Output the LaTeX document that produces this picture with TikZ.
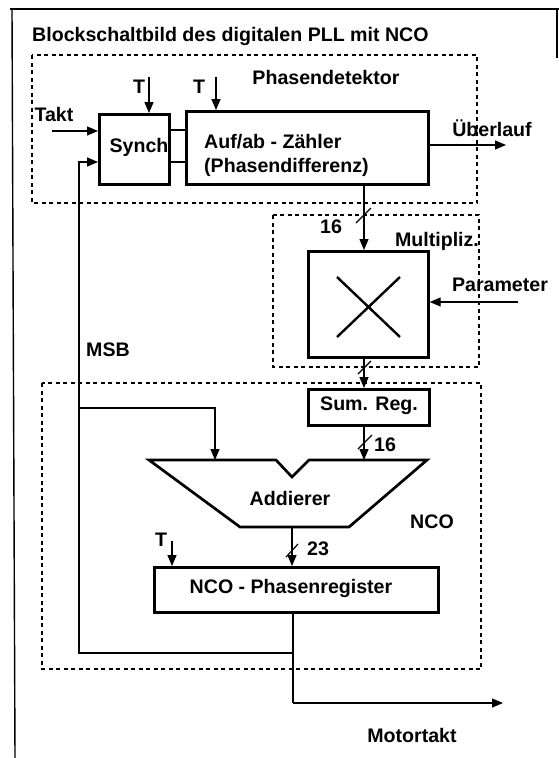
\documentclass[tikz,border=0pt]{standalone}
\usepackage{fontspec}
\setmainfont{Liberation Sans}
\usetikzlibrary{arrows.meta,calc}
\tikzset{
  lbl/.style={font=\fontsize{19.6}{22}\selectfont\bfseries, inner sep=0pt},
  blk/.style={draw, line width=2.7pt, inner sep=0pt, anchor=north west},
  dbox/.style={draw, line width=1.4pt, dash pattern=on 4pt off 3.5pt},
  conn/.style={line width=1.3pt},
  arr/.style={conn, -{Triangle[length=11pt,width=9pt]}},
  tick/.style={line width=1.2pt},
  frm/.style={line width=1.4pt},
}
\begin{document}
\begin{tikzpicture}[x=1pt,y=-1pt]
\useasboundingbox (0,0) rectangle (559,758);
% page frame
\draw[frm] (10,9) -- (559,9);
\draw[frm] (12,9) -- (15,758);
\draw[frm] (557,9) -- (557,58);
% title
\node[lbl, anchor=west] (title) at (32,36) {Blockschaltbild des digitalen PLL mit NCO};
% dashed groups
\draw[dbox] (32,55) rectangle (477,203);
\draw[dbox] (273,215) rectangle (479,367);
\draw[dbox] (42,383) rectangle (481,669);
\node[lbl] (pdlbl) at (326,77) {Phasendetektor};
\node[lbl] (mlbl) at (437,241) {Multipliz.};
\node[lbl] (ncolbl) at (432,522) {NCO};
% blocks
\node[blk, minimum width=70pt, minimum height=70pt] (synch) at (98,113) {};
\node[lbl] (synchtxt) at (139,147) {Synch};
\node[blk, minimum width=242pt, minimum height=73pt] (counter) at (185,110) {};
\node[lbl, anchor=west] (cnt1) at (204,142) {Auf/ab - Zähler};
\node[lbl, anchor=west] (cnt2) at (204,167) {(Phasendifferenz)};
\node[blk, minimum width=120pt, minimum height=106pt] (mult) at (307,250) {};
\draw[line width=2.4pt] (337,277) -- (400,337);
\draw[line width=2.4pt] (400,277) -- (337,337);
\node[blk, minimum width=121pt, minimum height=36pt] (sumreg) at (307,388) {};
\node[lbl] (sumtxt) at (369,406) {Sum. Reg.};
% adder
\coordinate (a1) at (149,460);
\coordinate (a2) at (276,460);
\coordinate (a3) at (292,477);
\coordinate (a4) at (309,460);
\coordinate (a5) at (427,460);
\coordinate (a6) at (349,527);
\coordinate (a7) at (240,527);
\draw[line width=2.7pt, line join=miter] (a1) -- (a2) -- (a3) -- (a4) -- (a5) -- (a6) -- (a7) -- cycle;
\node[lbl] (addtxt) at (290,498) {Addierer};
\node[blk, minimum width=284pt, minimum height=45pt] (reg) at (153,566) {};
\node[lbl] (regtxt) at (291,588) {NCO - Phasenregister};
% labels
\node[lbl] (takt) at (54,114) {Takt};
\node[lbl] (t1) at (139,87) {T};
\node[lbl] (t2) at (199,87) {T};
\node[lbl] (t3) at (161,540) {T};
\node[lbl] (ueb) at (492,128) {Überlauf};
\node[lbl] (n16a) at (331,227) {16};
\node[lbl] (param) at (500,285) {Parameter};
\node[lbl] (msb) at (108,350) {MSB};
\node[lbl] (n16b) at (385,445) {16};
\node[lbl] (n23) at (318,549) {23};
\node[lbl] (motor) at (412,735) {Motortakt};
% connectors
\coordinate (tk) at (52,131);
\draw[arr] (tk) -- (tk -| synch.west);
\coordinate (ta) at (149,77);
\draw[arr] (ta) -- (ta |- synch.north);
\coordinate (tb) at (216,77);
\draw[arr] (tb) -- (tb |- counter.north);
\coordinate (s1) at (168,130);
\coordinate (s2) at (168,162);
\draw[conn] (s1) -- (s1 -| counter.west);
\draw[conn] (s2) -- (s2 -| counter.west);
\coordinate (ov) at (506,145);
\draw[arr] (ov -| counter.east) -- (ov);
\coordinate (cx) at (364,0);
\draw[arr] (cx |- counter.south) -- (cx |- mult.north);
\coordinate (pm) at (518,302);
\draw[arr] (pm) -- (pm -| mult.east);
\draw[arr] (cx |- mult.south) -- (cx |- sumreg.north);
\draw[arr] (cx |- sumreg.south) -- (cx |- a5);
\coordinate (ax) at (292,0);
\draw[arr] (ax |- a6) -- (ax |- reg.north);
\coordinate (tc) at (172,541);
\draw[arr] (tc) -- (tc |- reg.north);
% output and feedback
\coordinate (ob) at (293,653);
\coordinate (oc) at (293,703);
\coordinate (od) at (503,703);
\coordinate (fb1) at (79,653);
\coordinate (fb2) at (79,162);
\coordinate (fb3) at (79,408);
\coordinate (fb4) at (215,408);
\draw[conn] (293,611) -- (ob) -- (oc);
\draw[arr] (oc) -- (od);
\draw[arr] (ob) -- (fb1) -- (fb2) -- (fb2 -| synch.west);
\draw[arr] (fb3) -- (fb4) -- (fb4 |- a1);
% bus ticks
\draw[tick] (356,223) -- (371,208);
\draw[tick] (358,374) -- (371,361);
\draw[tick] (358,449) -- (372,435);
\draw[tick] (286,557) -- (298,544);
\end{tikzpicture}
\end{document}
